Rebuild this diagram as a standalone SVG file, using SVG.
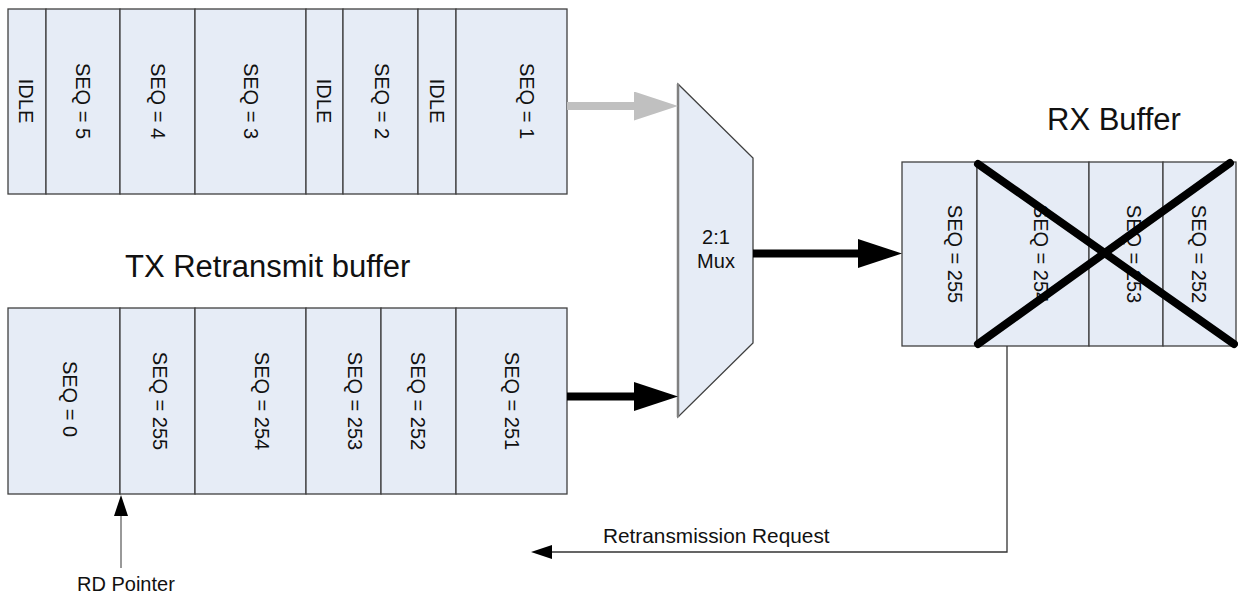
<svg xmlns="http://www.w3.org/2000/svg" width="1238" height="595" viewBox="0 0 1238 595">
<style>
.cell{fill:#e6ecf6;stroke:#404040;stroke-width:1.3}
.t{font-family:"Liberation Sans",Arial,sans-serif;font-size:20px;fill:#111}
.v{text-anchor:middle;dominant-baseline:central}
.title{font-family:"Liberation Sans",Arial,sans-serif;font-size:31px;fill:#111}
.thick{fill:none;stroke-width:8}
.thin{fill:none;stroke:#333;stroke-width:1.3}
</style>
<defs>
<marker id="bigBlack" markerUnits="userSpaceOnUse" markerWidth="46" markerHeight="30" refX="2" refY="14.5" orient="auto"><path d="M0,0 L44,14.5 L0,29 z" fill="#000"/></marker>
<marker id="bigGray" markerUnits="userSpaceOnUse" markerWidth="46" markerHeight="30" refX="2" refY="14.5" orient="auto"><path d="M0,0 L44,14.5 L0,29 z" fill="#c0c0c0"/></marker>
<marker id="small" markerUnits="userSpaceOnUse" markerWidth="22" markerHeight="16" refX="1" refY="7" orient="auto"><path d="M0,0 L21,7 L0,14 z" fill="#000"/></marker>
</defs>

<g id="tx-main-buffer">
<rect class="cell" x="8" y="9" width="38" height="185"/>
<rect class="cell" x="46" y="9" width="74" height="185"/>
<rect class="cell" x="120" y="9" width="75" height="185"/>
<rect class="cell" x="195" y="9" width="111" height="185"/>
<rect class="cell" x="306" y="9" width="37" height="185"/>
<rect class="cell" x="343" y="9" width="75" height="185"/>
<rect class="cell" x="418" y="9" width="38" height="185"/>
<rect class="cell" x="456" y="9" width="111" height="185"/>
<text class="t v" transform="translate(26,101) rotate(90)">IDLE</text>
<text class="t v" transform="translate(83,101) rotate(90)">SEQ = 5</text>
<text class="t v" transform="translate(158,101) rotate(90)">SEQ = 4</text>
<text class="t v" transform="translate(251,101) rotate(90)">SEQ = 3</text>
<text class="t v" transform="translate(324,101) rotate(90)">IDLE</text>
<text class="t v" transform="translate(382,101) rotate(90)">SEQ = 2</text>
<text class="t v" transform="translate(437,101) rotate(90)">IDLE</text>
<text class="t v" transform="translate(527,101) rotate(90)">SEQ = 1</text>
</g>

<g id="tx-retransmit-buffer">
<text class="title" x="125" y="277">TX Retransmit buffer</text>
<rect class="cell" x="8" y="308" width="112" height="186"/>
<rect class="cell" x="120" y="308" width="75" height="186"/>
<rect class="cell" x="195" y="308" width="111" height="186"/>
<rect class="cell" x="306" y="308" width="75" height="186"/>
<rect class="cell" x="381" y="308" width="75" height="186"/>
<rect class="cell" x="456" y="308" width="111" height="186"/>
<text class="t v" transform="translate(70,399) rotate(90)">SEQ = 0</text>
<text class="t v" transform="translate(160,401) rotate(90)">SEQ = 255</text>
<text class="t v" transform="translate(262,401) rotate(90)">SEQ = 254</text>
<text class="t v" transform="translate(355,401) rotate(90)">SEQ = 253</text>
<text class="t v" transform="translate(418,401) rotate(90)">SEQ = 252</text>
<text class="t v" transform="translate(512,401) rotate(90)">SEQ = 251</text>
</g>

<g id="mux">
<polygon points="678,84 753,158 753,343 678,417" fill="#e6ecf6" stroke="#404040" stroke-width="1.3"/>
<line x1="678" y1="84" x2="678" y2="417" stroke="#808080" stroke-width="2.5"/>
<text class="t" x="716" y="244" text-anchor="middle">2:1</text>
<text class="t" x="716" y="268" text-anchor="middle">Mux</text>
</g>

<g id="rx-buffer">
<text class="title" x="1047" y="130">RX Buffer</text>
<rect class="cell" x="902" y="162" width="75" height="184"/>
<rect class="cell" x="977" y="162" width="112" height="184"/>
<rect class="cell" x="1089" y="162" width="74" height="184"/>
<rect class="cell" x="1163" y="162" width="73" height="184"/>
<text class="t v" transform="translate(955,254) rotate(90)">SEQ = 255</text>
<text class="t v" transform="translate(1041,254) rotate(90)">SEQ = 254</text>
<text class="t v" transform="translate(1134,254) rotate(90)">SEQ = 253</text>
<text class="t v" transform="translate(1199,254) rotate(90)">SEQ = 252</text>
<line x1="978" y1="164" x2="1234" y2="344" stroke="#000" stroke-width="8" stroke-linecap="round"/>
<line x1="978" y1="344" x2="1230" y2="163" stroke="#000" stroke-width="8" stroke-linecap="round"/>
</g>

<g id="rd-pointer">
<text class="t" x="77" y="591">RD Pointer</text>
</g>

<g id="connectors">
<line class="thick" x1="567" y1="106" x2="636" y2="106" stroke="#c0c0c0" marker-end="url(#bigGray)"/>
<line class="thick" x1="567" y1="396.5" x2="636" y2="396.5" stroke="#000" marker-end="url(#bigBlack)"/>
<line class="thick" x1="753" y1="253.5" x2="860" y2="253.5" stroke="#000" marker-end="url(#bigBlack)"/>
<path class="thin" d="M1007,346 V552 H551" marker-end="url(#small)"/>
<text class="t" x="603" y="543" style="font-size:20.8px">Retransmission Request</text>
<line x1="121" y1="568" x2="121" y2="515" stroke="#777" stroke-width="1.5" marker-end="url(#small)"/>
</g>
</svg>
